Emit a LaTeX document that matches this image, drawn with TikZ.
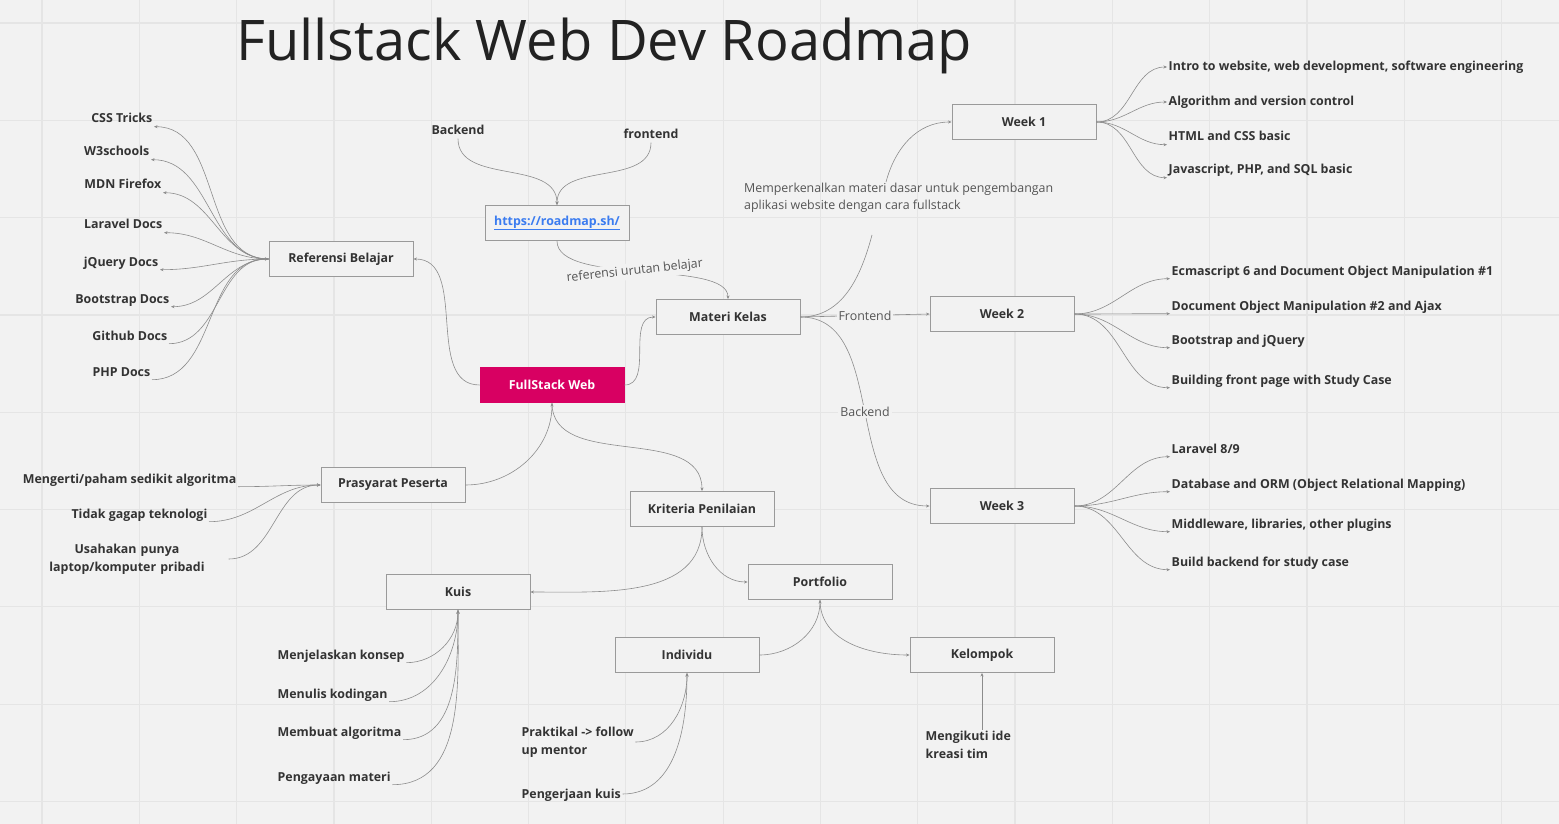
\documentclass[tikz,border=0pt]{standalone}
\usepackage{fontspec}
\setmainfont{Open Sans}
\usetikzlibrary{arrows.meta}
\definecolor{boardbg}{HTML}{F2F2F2}
\definecolor{gridgrey}{HTML}{E5E5E5}
\definecolor{boxedge}{HTML}{9A9A9A}
\definecolor{linkgrey}{HTML}{8C8C8C}
\definecolor{inkdark}{HTML}{333333}
\definecolor{notegrey}{HTML}{555555}
\definecolor{titleink}{HTML}{222222}
\definecolor{hotpink}{HTML}{D80062}
\definecolor{urlblue}{HTML}{3B7CF0}

\begin{document}
\begin{tikzpicture}[x=1pt, y=1pt,
    topic/.style={rectangle, draw=boxedge, fill=boardbg, line width=0.9pt,
        minimum width=144pt, minimum height=35pt,
        font=\fontsize{12.4}{14}\selectfont\bfseries, text=inkdark},
    leaf/.style={inner sep=1.5pt, font=\fontsize{12.4}{18}\selectfont\bfseries,
        text=inkdark, text height=10pt, text depth=2pt},
    leafblock/.style={inner sep=1.5pt, font=\fontsize{12.4}{18}\selectfont\bfseries,
        text=inkdark},
    note/.style={inner sep=2pt, font=\fontsize{12.4}{17}\selectfont,
        text=notegrey, fill=boardbg},
    link/.style={draw=linkgrey, line width=0.6pt},
    gridline/.style={draw=gridgrey, line width=1.2pt},
    >={Stealth[length=3.5pt,width=3pt]}
]
\useasboundingbox (0,0) rectangle (1559,-824);
\fill[boardbg] (0,0) rectangle (1559,-824);
\foreach \gx in {0,...,15}
    \draw[gridline] ({42+97.3*\gx},0) -- ({42+97.3*\gx},-824);
\foreach \gy in {0,...,8}
    \draw[gridline] (0,{-23-97.3*\gy}) -- (1559,{-23-97.3*\gy});

\node[anchor=base west, inner sep=0, font=\fontsize{56}{60}\selectfont, text=titleink]
    (title) at (236,-61) {Fullstack Web Dev Roadmap};

% main boxes
\node[topic, fill=hotpink, draw=hotpink, text=white] (full) at (552,-385) {FullStack Web};
\node[topic] (ref) at (341,-259) {Referensi Belajar};
\node[topic] (road) at (557,-223) {\color{urlblue}\underline{https://roadmap.sh/}};
\node[topic] (mat) at (728,-317) {Materi Kelas};
\node[topic] (w1) at (1024,-122) {Week 1};
\node[topic] (w2) at (1002,-314) {Week 2};
\node[topic] (w3) at (1002,-506) {Week 3};
\node[topic] (pras) at (393,-485) {Prasyarat Peserta};
\node[topic] (krit) at (702,-509) {Kriteria Penilaian};
\node[topic] (kuis) at (458,-592) {Kuis};
\node[topic] (port) at (820,-582) {Portfolio};
\node[topic] (indiv) at (687,-655) {Individu};
\node[topic] (kel) at (982,-655) {Kelompok};

% referensi
\node[leaf, anchor=east] (refcss) at (154,-119) {CSS Tricks};
\node[leaf, anchor=east] (refw3) at (151,-152) {W3schools};
\node[leaf, anchor=east] (refmdn) at (163,-185) {MDN Firefox};
\node[leaf, anchor=east] (reflara) at (164,-225) {Laravel Docs};
\node[leaf, anchor=east] (refjq) at (160,-262) {jQuery Docs};
\node[leaf, anchor=east] (refboot) at (171,-299) {Bootstrap Docs};
\node[leaf, anchor=east] (refgit) at (169,-336) {Github Docs};
\node[leaf, anchor=east] (refphp) at (152,-372) {PHP Docs};

\node[leaf] (bk) at (458,-131) {Backend};
\node[leaf] (fe) at (651,-135) {frontend};

% weeks
\node[leaf, anchor=west] (intro) at (1167,-67) {Intro to website, web development, software engineering};
\node[leaf, anchor=west] (algo) at (1167,-102) {Algorithm and version control};
\node[leaf, anchor=west] (htmlcss) at (1167,-137) {HTML and CSS basic};
\node[leaf, anchor=west] (jsphp) at (1167,-170) {Javascript, PHP, and SQL basic};
\node[leaf, anchor=west] (es6) at (1170,-271) {Ecmascript 6 and Document Object Manipulation \#1};
\node[leaf, anchor=west] (dom2) at (1170,-306) {Document Object Manipulation \#2 and Ajax};
\node[leaf, anchor=west] (bsjq) at (1170,-340) {Bootstrap and jQuery};
\node[leaf, anchor=west] (frontpage) at (1170,-380) {Building front page with Study Case};
\node[leaf, anchor=west] (laravel) at (1170,-449) {Laravel 8/9};
\node[leaf, anchor=west] (orm) at (1170,-484) {Database and ORM (Object Relational Mapping)};
\node[leaf, anchor=west] (middleware) at (1170,-524) {Middleware, libraries, other plugins};
\node[leaf, anchor=west] (backcase) at (1170,-562) {Build backend for study case};

% prasyarat, kuis, portfolio
\node[leaf, anchor=east] (paham) at (238,-479) {Mengerti/paham sedikit algoritma};
\node[leaf, anchor=east] (gaptek) at (209,-514) {Tidak gagap teknologi};
\node[leafblock, text width=200pt, align=center] (laptop) at (127,-559) {Usahakan punya\\laptop/komputer pribadi};
\node[leaf, anchor=west] (konsep) at (276,-655) {Menjelaskan konsep};
\node[leaf, anchor=west] (koding) at (276,-694) {Menulis kodingan};
\node[leaf, anchor=west] (algor) at (276,-732) {Membuat algoritma};
\node[leaf, anchor=west] (pengayaan) at (276,-777) {Pengayaan materi};
\node[leafblock, anchor=west, align=left] (praktik) at (520,-742) {Praktikal -> follow\\up mentor};
\node[leaf, anchor=west] (kuisgo) at (520,-794) {Pengerjaan kuis};
\node[leafblock, anchor=west, align=left] (ide) at (924,-745) {Mengikuti ide\\kreasi tim};

\node[note, fill=none, align=left, anchor=north west] (desc) at (742,-181)
    {Memperkenalkan materi dasar untuk pengembangan\\aplikasi website dengan cara fullstack};
\coordinate (desclo) at (872,-235);
\coordinate (deschi) at (886,-182);

% connectors
\foreach \leafname in {refcss,refw3,refmdn,reflara,refjq,refboot}
    \draw[link,->] (ref.west) to[out=180,in=0] (\leafname.south east);
\foreach \leafname in {refgit,refphp}
    \draw[link,->] (\leafname.south east) to[out=0,in=180] (ref.west);
\draw[link,->] (full.west) to[out=180,in=0] (ref.east);
\draw[link,->] (full.east) to[out=0,in=180] (mat.west);
\draw[link,->] (bk.south) to[out=-90,in=90] (road.north);
\draw[link,->] (fe.south) to[out=-90,in=90] (road.north);
\draw[link,->] (road.south) .. controls +(0,-45) and +(0,40) .. (mat.north)
    node[pos=0.47, note, rotate=6] {referensi urutan belajar};
\draw[link] (mat.east) to[out=0,in=-105] (desclo);
\draw[link,->] (deschi) to[out=75,in=180] (w1.west);
\draw[link,->] (mat.east) -- node[note] {Frontend} (w2.west);
\draw[link,->] (mat.east) to[out=0,in=180] node[note] {Backend} (w3.west);

\foreach \leafname in {intro,algo}
    \draw[link,->] (w1.east) to[out=0,in=180] (\leafname.west);
\foreach \leafname in {htmlcss,jsphp}
    \draw[link,->] (w1.east) to[out=0,in=180] (\leafname.south west);
\foreach \leafname in {es6,dom2,bsjq,frontpage}
    \draw[link,->] (w2.east) to[out=0,in=180] (\leafname.south west);
\foreach \leafname in {laravel,orm,middleware,backcase}
    \draw[link,->] (w3.east) to[out=0,in=180] (\leafname.south west);

\draw[link,->] (paham.south east) to[out=0,in=180] (pras.west);
\draw[link,->] (gaptek.south east) to[out=0,in=180] (pras.west);
\draw[link,->] (laptop.east) to[out=0,in=180] (pras.west);
\draw[link,->] (pras.east) to[out=0,in=-90] (full.south);
\draw[link,->] (full.south) to[out=-90,in=90] (krit.north);
\draw[link,->] (krit.south) to[out=-90,in=0] (kuis.east);
\draw[link,->] (krit.south) to[out=-90,in=180] (port.west);
\foreach \leafname in {konsep,koding,algor,pengayaan}
    \draw[link,->] (\leafname.south east) to[out=0,in=-90] (kuis.south);
\draw[link,->] (indiv.east) to[out=0,in=-90] (port.south);
\draw[link,->] (port.south) to[out=-90,in=180] (kel.west);
\draw[link,->] (praktik.east) to[out=0,in=-90] (indiv.south);
\draw[link,->] (kuisgo.east) to[out=0,in=-90] (indiv.south);
\draw[link,->] (ide.north -| kel.south) -- (kel.south);
\end{tikzpicture}
\end{document}
